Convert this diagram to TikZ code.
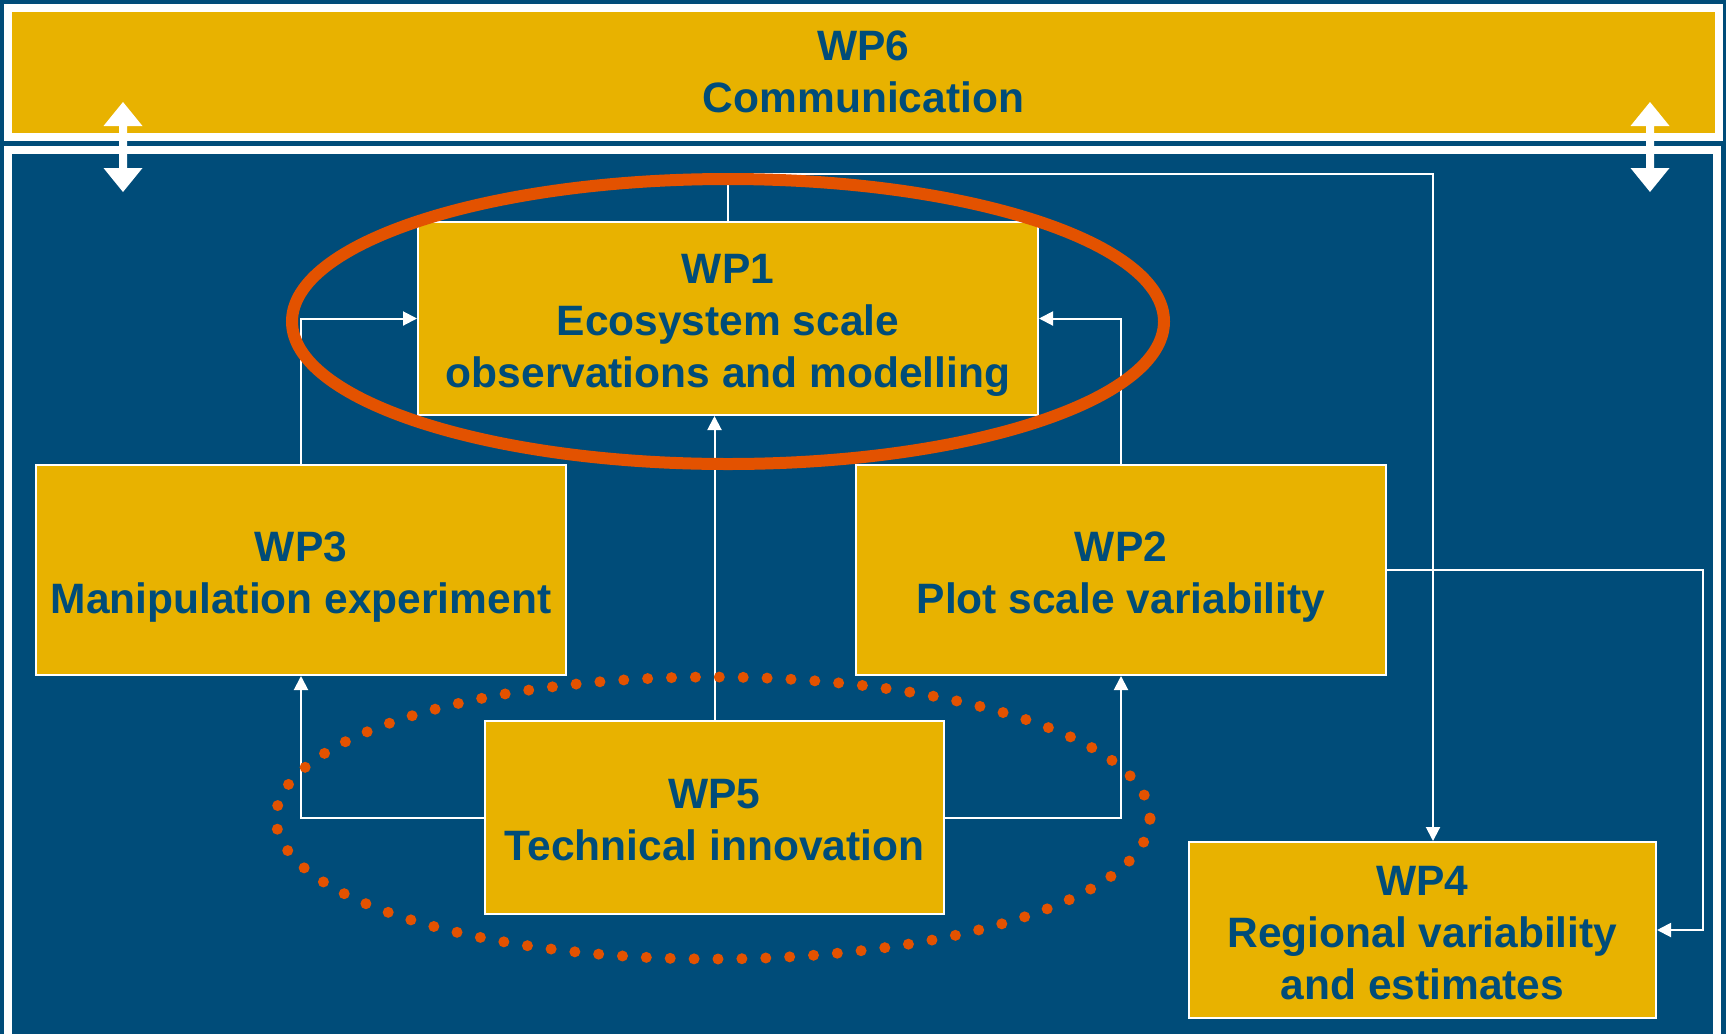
\documentclass[tikz,border=0pt]{standalone}
\usepackage{fontspec}
\setmainfont{Liberation Sans}
\usetikzlibrary{arrows.meta}
\definecolor{wpblue}{RGB}{0,76,121}
\definecolor{wpyellow}{RGB}{232,178,0}
\definecolor{wporange}{RGB}{227,82,0}
\newcommand\wptop{\rule{0pt}{44pt}}
\newcommand\wpbot{\rule[-9.5pt]{0pt}{9.5pt}}
\begin{document}
\begin{tikzpicture}[x=1pt,y=-1pt,
  box/.style={draw=white, line width=2pt, fill=wpyellow, text=wpblue,
    font=\bfseries\fontsize{42.5}{52}\selectfont, align=center, inner sep=0pt},
  conn/.style={draw=white, line width=2pt, -{Triangle[length=14pt,width=14pt]}},
  frame/.style={draw=white, line width=8pt},
  ring/.style={draw=wporange, line width=12pt},
  dotring/.style={draw=wporange, line width=11pt, line cap=round, dash pattern=on 0pt off 23.9pt},
  dblarrow/.style={fill=white}]
\useasboundingbox (0,0) rectangle (1726,1034);
\clip (0,0) rectangle (1726,1034);
\fill[wpblue] (0,0) rectangle (1726,1034);
% lower frame
\draw[frame] (8,150) rectangle (1717,1045);
% WP6
\node[box, line width=8pt, minimum width=1711pt, minimum height=129.5pt] (wp6) at (863.5,72.25) {WP6\\Communication};
% boxes
\node[box, minimum width=620pt, minimum height=193pt] (wp1) at (728,318.5) {\wptop WP1\\Ecosystem scale\\observations and modelling\wpbot};
\node[box, minimum width=530pt, minimum height=210pt] (wp3) at (301,570) {\wptop WP3\\Manipulation experiment\wpbot};
\node[box, minimum width=530pt, minimum height=210pt] (wp2) at (1121,570) {\wptop WP2\\Plot scale variability\wpbot};
\node[box, minimum width=459pt, minimum height=193pt] (wp5) at (714.5,817.5) {\wptop WP5\\Technical innovation\wpbot};
\node[box, minimum width=467pt, minimum height=176pt] (wp4) at (1422.5,930) {\wptop WP4\\Regional variability\\and estimates\wpbot};
% connectors
\draw[conn] (wp3.north) |- (wp1.west);
\draw[conn] (wp2.north) |- (wp1.east);
\draw[conn] (wp5.north) -- (wp5.north |- wp1.south);
\draw[conn] (wp5.west) -| (wp3.south);
\draw[conn] (wp5.east) -| (wp2.south);
\coordinate (c1) at (728,174);
\coordinate (c2) at (1433,174);
\draw[conn] (wp1.north) -- (c1) -- (c2) -- (c2 |- wp4.north);
\coordinate (c3) at (1703,570);
\draw[conn] (wp2.east) -- (c3) |- (wp4.east);
% ellipses
\draw[ring] (728,321.5) ellipse [x radius=436pt, y radius=142.5pt];
\draw[dotring] (713,818) ellipse [x radius=437pt, y radius=141pt];
% double arrows
\foreach \x in {123,1650}{
  \fill[dblarrow] (\x,102) -- (\x+19.5,126) -- (\x+4,126) -- (\x+4,168) -- (\x+19.5,168)
    -- (\x,192) -- (\x-19.5,168) -- (\x-4,168) -- (\x-4,126) -- (\x-19.5,126) -- cycle;
}
\end{tikzpicture}
\end{document}
